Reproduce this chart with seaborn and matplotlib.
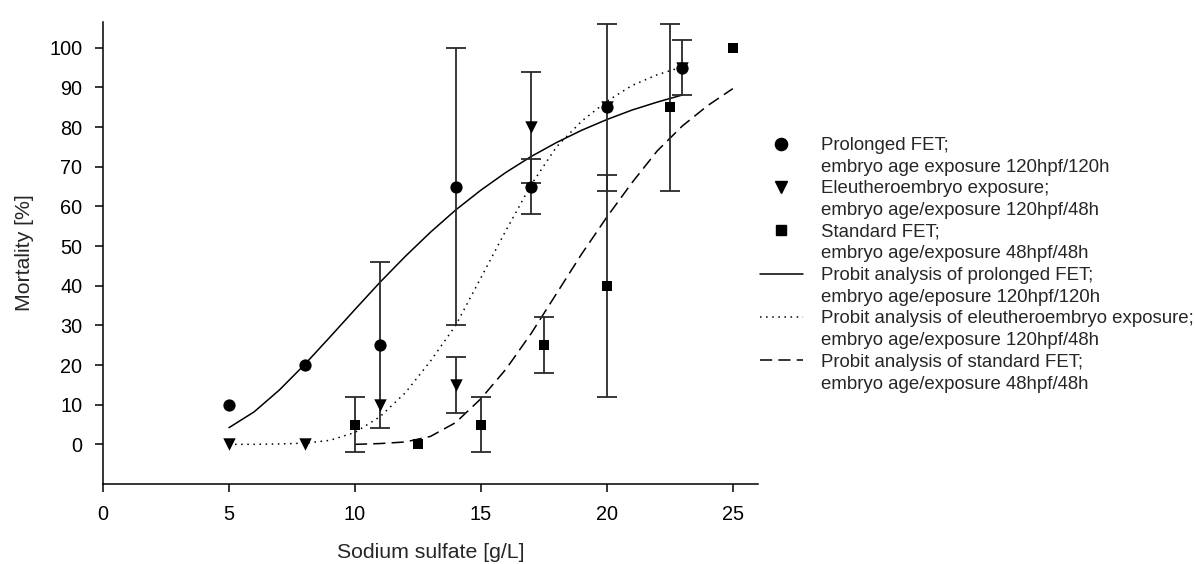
import matplotlib
matplotlib.use("Agg")
import matplotlib.pyplot as plt
from matplotlib.lines import Line2D
import seaborn as sns
import pandas as pd

# ---- data ----
conc_prolonged = [5, 8, 11, 14, 17, 20, 23]
mort_prolonged = [10, 20, 25, 65, 65, 85, 95]
err_prolonged = [0, 0, 21, 35, 7, 21, 7]

conc_eleuthero = [5, 8, 11, 14, 17, 20, 23]
mort_eleuthero = [0, 0, 10, 15, 80, 85, 95]
err_eleuthero = [0, 0, 0, 7, 14, 0, 0]

conc_standard = [10, 12.5, 15, 17.5, 20, 22.5, 25]
mort_standard = [5, 0, 5, 25, 40, 85, 100]
err_standard = [7, 0, 7, 7, 28, 21, 0]

# probit curves
fit_x_prolonged = [5, 6, 7, 8, 9, 10, 11, 12, 13, 14, 15, 16, 17, 18, 19, 20, 21, 22, 23]
fit_y_prolonged = [4.2, 8.2, 13.7, 20.1, 27.0, 34.0, 40.9, 47.4, 53.5, 59.1, 64.1, 68.6,
                   72.6, 76.1, 79.2, 81.9, 84.3, 86.3, 88.1]

fit_x_eleuthero = [5, 6, 7, 8, 9, 10, 11, 12, 13, 14, 15, 16, 17, 18, 19, 20, 21, 22, 23]
fit_y_eleuthero = [0.0, 0.0, 0.1, 0.3, 1.0, 3.0, 7.0, 13.0, 21.0, 30.0, 42.0, 54.0,
                   65.5, 75.0, 81.5, 86.5, 90.5, 93.2, 95.2]

fit_x_standard = [10, 11, 12, 13, 14, 15, 16, 17, 18, 19, 20, 21, 22, 23, 24, 25]
fit_y_standard = [0.0, 0.2, 0.6, 2.0, 5.5, 11.5, 19.0, 28.0, 38.0, 48.0, 57.3, 66.0,
                  74.0, 80.3, 85.4, 89.7]

legend_labels = [
    ("Prolonged FET;", "embryo age exposure 120hpf/120h"),
    ("Eleutheroembryo exposure;", "embryo age/exposure 120hpf/48h"),
    ("Standard FET;", "embryo age/exposure 48hpf/48h"),
    ("Probit analysis of prolonged FET;", "embryo age/eposure 120hpf/120h"),
    ("Probit analysis of eleutheroembryo exposure;", "embryo age/exposure 120hpf/48h"),
    ("Probit analysis of standard FET;", "embryo age/exposure 48hpf/48h"),
]

x_ticks = [0, 5, 10, 15, 20, 25]
y_ticks = [0, 10, 20, 30, 40, 50, 60, 70, 80, 90, 100]

# ---- style ----
sns.set_theme(style="ticks")
plt.rcParams["font.family"] = ["Liberation Sans", "DejaVu Sans"]

fig = plt.figure(figsize=(11.95, 5.64), dpi=100)
ax = fig.add_axes([103 / 1195, 1 - 484 / 564, (758 - 103) / 1195, (484 - 22) / 564])

ink = "black"
bar_col = "#2a2a2a"

# fitted curves
sns.lineplot(x=fit_x_prolonged, y=fit_y_prolonged, ax=ax, color=ink, lw=1.1,
             linestyle="-", sort=False, estimator=None, zorder=2)
sns.lineplot(x=fit_x_eleuthero, y=fit_y_eleuthero, ax=ax, color=ink, lw=1.1,
             linestyle=(0, (1, 3)), sort=False, estimator=None, zorder=2)
sns.lineplot(x=fit_x_standard, y=fit_y_standard, ax=ax, color=ink, lw=1.1,
             linestyle=(0, (8, 4)), sort=False, estimator=None, zorder=2)


def draw_errors(xs, ys, es):
    d = pd.DataFrame({"x": xs, "y": ys, "e": es})
    d = d[d["e"] > 0]
    ax.errorbar(d["x"], d["y"], yerr=d["e"], fmt="none", ecolor=bar_col,
                elinewidth=1.3, capsize=7, capthick=1.3, zorder=3)


draw_errors(conc_standard, mort_standard, err_standard)
draw_errors(conc_eleuthero, mort_eleuthero, err_eleuthero)
draw_errors(conc_prolonged, mort_prolonged, err_prolonged)

# markers
sns.scatterplot(x=conc_standard, y=mort_standard, ax=ax, marker="s", s=62,
                color=ink, edgecolor=ink, linewidth=0, zorder=4)
sns.scatterplot(x=conc_eleuthero, y=mort_eleuthero, ax=ax, marker="v", s=80,
                color=ink, edgecolor=ink, linewidth=0, zorder=4)
sns.scatterplot(x=conc_prolonged, y=mort_prolonged, ax=ax, marker="o", s=78,
                color=ink, edgecolor=ink, linewidth=0, zorder=5)

# axes
ax.set_xlim(0, 26)
ax.set_ylim(-10, 106.5)
ax.set_xticks(x_ticks)
ax.set_yticks(y_ticks)
ax.tick_params(axis="both", direction="out", length=6, width=1.1, colors="black",
               labelsize=14.3, pad=9)
for side in ["top", "right"]:
    ax.spines[side].set_visible(False)
for side in ["left", "bottom"]:
    ax.spines[side].set_linewidth(1.1)
    ax.spines[side].set_color("black")
ax.set_xlabel("Sodium sulfate [g/L]", fontsize=15.3, labelpad=14)
ax.set_ylabel("Mortality [%]", fontsize=15.3, labelpad=11)

# legend: each entry is two rows, the symbol sits on the first row
blank = Line2D([], [], linestyle="none", marker=None)
symbols = [
    Line2D([], [], linestyle="none", marker="o", color=ink, markersize=8.8),
    Line2D([], [], linestyle="none", marker="v", color=ink, markersize=8.9),
    Line2D([], [], linestyle="none", marker="s", color=ink, markersize=7.7),
    Line2D([], [], linestyle="-", color=ink, lw=1.1),
    Line2D([], [], linestyle=(0, (1, 3)), color=ink, lw=1.1),
    Line2D([], [], linestyle=(0, (8, 4)), color=ink, lw=1.1),
]
handles, labels = [], []
for h, (l1, l2) in zip(symbols, legend_labels):
    handles += [h, blank]
    labels += [l1, l2]
ax.legend(handles, labels, loc="upper left", bbox_to_anchor=(760 / 1195, 1 - 137 / 564),
          bbox_transform=fig.transFigure, frameon=False, fontsize=13.4,
          handlelength=2.3, handletextpad=1.0, labelspacing=0.25, borderpad=0,
          borderaxespad=0)

fig.savefig("out.png", dpi=100)
